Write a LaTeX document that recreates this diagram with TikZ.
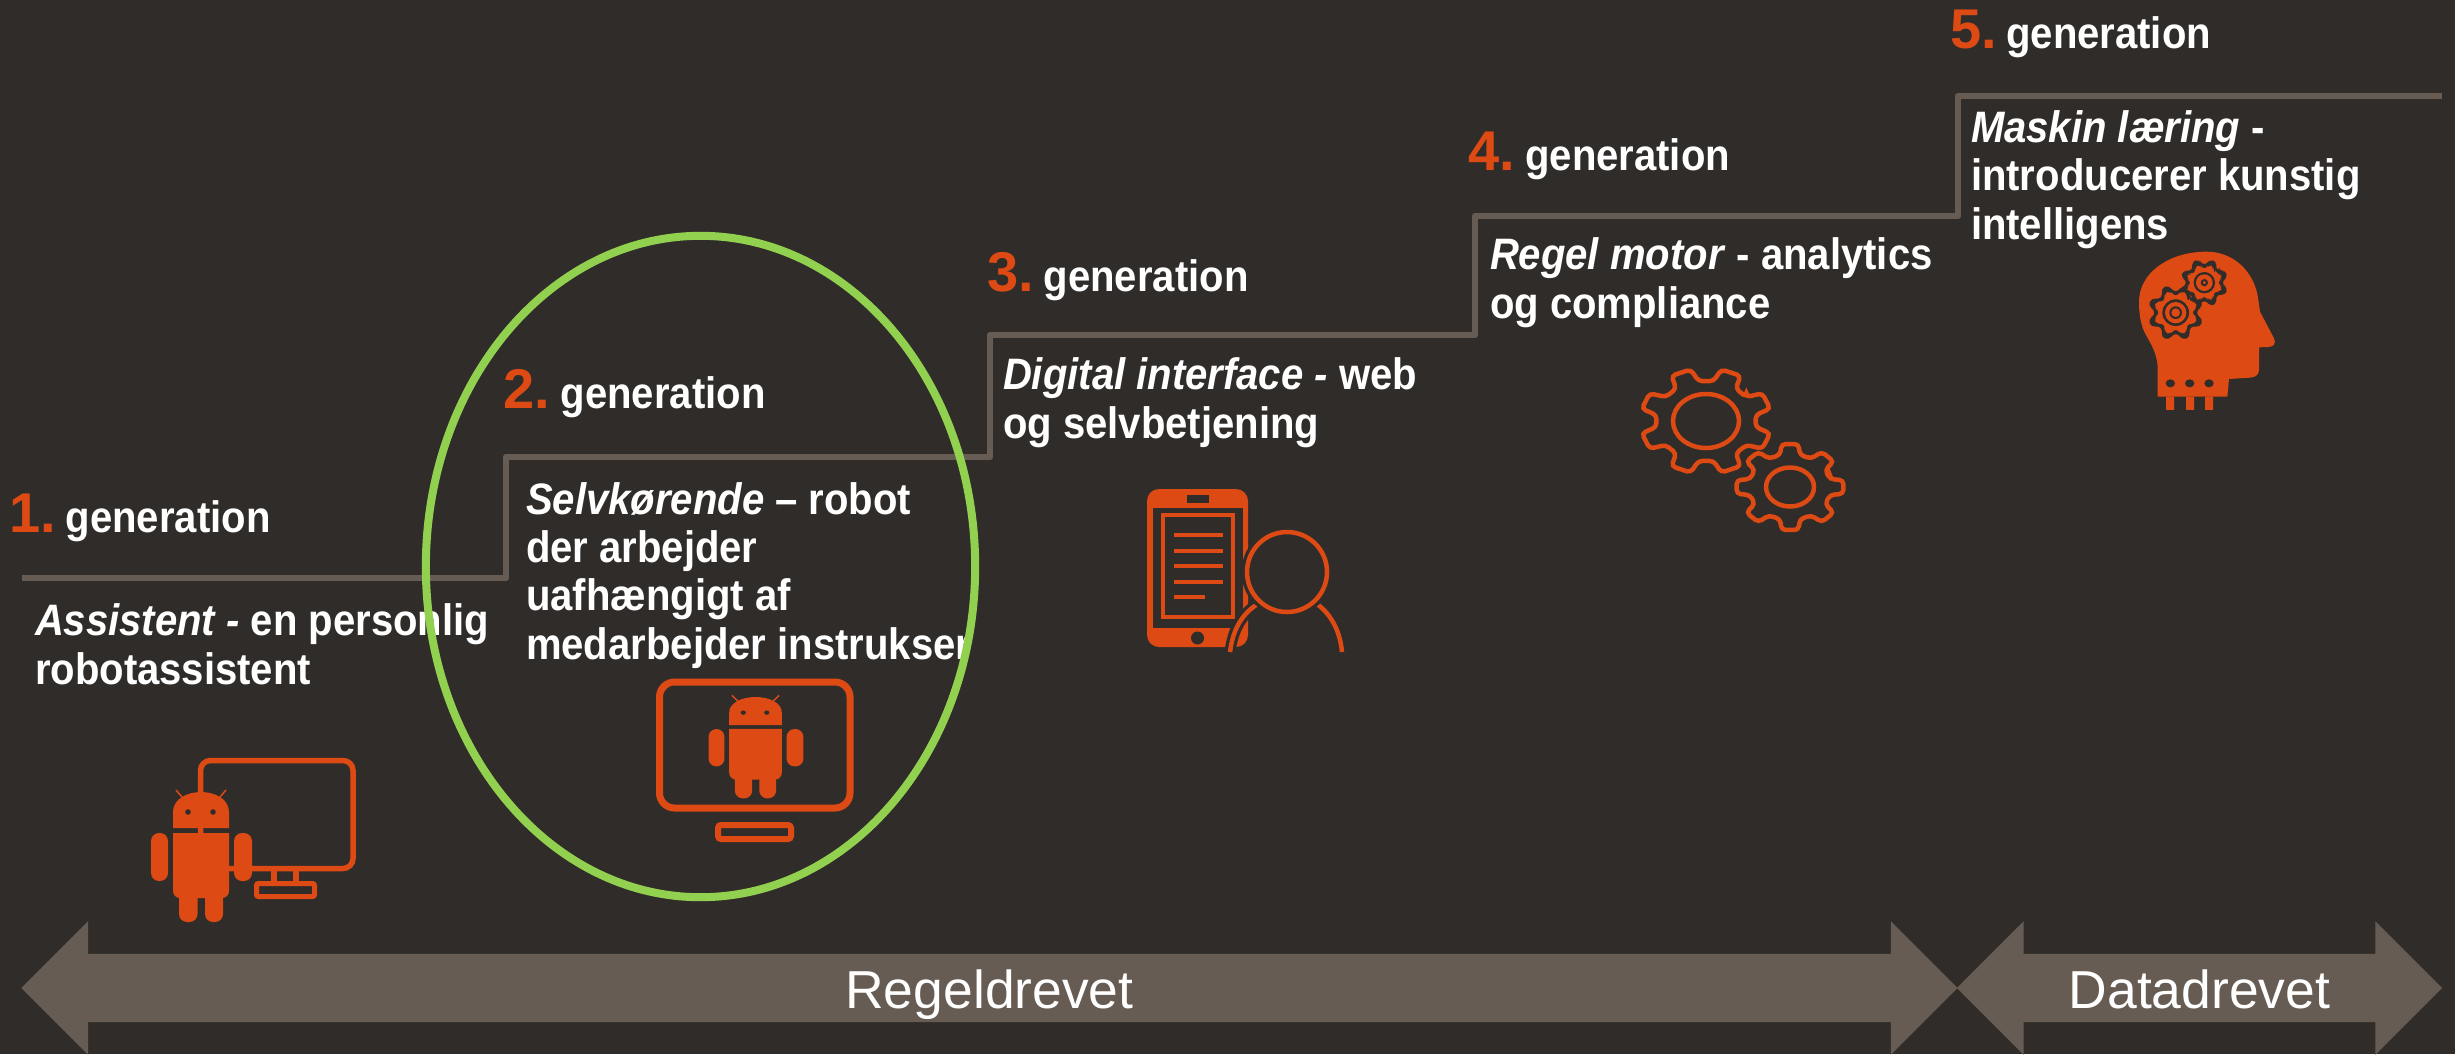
\documentclass[tikz,border=0pt]{standalone}
\usepackage{fontspec}
\setmainfont{Liberation Sans}
\newfontfamily\stepfont[FakeStretch=0.91]{Liberation Sans}
\usetikzlibrary{positioning}
\usetikzlibrary{shapes.geometric}
\usetikzlibrary{shapes.arrows}
\definecolor{bgdark}{HTML}{302C29}
\definecolor{stepgray}{HTML}{665C53}
\definecolor{rust}{HTML}{DD4A14}
\definecolor{leaf}{HTML}{92D14F}

\tikzset{
    stepnum/.style = {inner sep = 0, outer sep = 0, text = rust, font = \fontsize{15.93pt}{18pt}\selectfont\bfseries},
    steptitle/.style = {inner sep = 0, outer sep = 0, text = white, font = \stepfont\fontsize{12.52pt}{14pt}\selectfont\bfseries},
    stepdesc/.style = {inner sep = 0, outer sep = 0, text = white, align = left, anchor = base west,
        font = \stepfont\fontsize{12.52pt}{13.66pt}\selectfont\bfseries},
    phase/.style = {shape = double arrow, fill = stepgray, text = white, inner sep = 0, outer sep = 0,
        double arrow head extend = 0.325cm, minimum width = 1.32cm, text height = 0.535cm, text depth = 0.135cm,
        font = \fontsize{15.2pt}{18pt}\selectfont},
    % robot, measured from the middle of its head top
    robot/.pic = {
        \fill[rust] (-28,36) -- (-28,20) .. controls (-28,7) and (-14,0) .. (0,0)
            .. controls (14,0) and (28,7) .. (28,20) -- (28,36) -- cycle;
        \draw[rust, line width = 0.015cm] (-19,5) -- (-25,-2) (19,5) -- (25,-2);
        \fill[bgdark] (-13,20) circle (2.8) (12,20) circle (2.8);
        \fill[rust] (-28,41) -- (28,41) [rounded corners = 0.07cm] -- (28,106) -- (-28,106) [sharp corners] -- cycle;
        \fill[rust, rounded corners = 0.08cm] (-50,41) rectangle (-33,89);
        \fill[rust, rounded corners = 0.08cm] (33,41) rectangle (51,89);
        \fill[rust, rounded corners = 0.08cm] (-22,85) rectangle (-3.5,130);
        \fill[rust, rounded corners = 0.08cm] (4,85) rectangle (22,130);
    },
    cogwheel/.pic = {
        \path[pic actions, rounded corners = 0.04cm] (-14:0.76)
            \foreach \a in {0,45,...,315} {
                -- (\a-14:0.76) -- (\a-9:1) -- (\a+9:1) -- (\a+14:0.76)
            } -- cycle;
    }
}

\begin{document}
\begin{tikzpicture}[x = 0.01cm, y = -0.01cm]

    \path[use as bounding box, fill = bgdark] (0,0) rectangle (2455,1054);

    % stairs
    \draw[stepgray, line width = 0.065cm, line join = round] (22,578) -- (506,578) -- (506,457) -- (990,457)
        -- (990,335) -- (1475,335) -- (1475,216) -- (1958,216) -- (1958,96) -- (2442,96);

    % generations
    \node[stepnum, anchor = base west] (num1) at (9,532) {1.};
    \node[steptitle, base right = 0.1cm of num1] (gen1) {generation};
    \node[stepnum, anchor = base west] (num2) at (503,408) {2.};
    \node[steptitle, base right = 0.11cm of num2] (gen2) {generation};
    \node[stepnum, anchor = base west] (num3) at (987,291) {3.};
    \node[steptitle, base right = 0.1cm of num3] (gen3) {generation};
    \node[stepnum, anchor = base west] (num4) at (1468,170) {4.};
    \node[steptitle, base right = 0.105cm of num4] (gen4) {generation};
    \node[stepnum, anchor = base west] (num5) at (1950,48) {5.};
    \node[steptitle, base right = 0.095cm of num5] (gen5) {generation};

    % descriptions
    \node[stepdesc] (desc1) at (35,684) {\textit{Assistent -} en personlig\\robotassistent};
    \node[stepdesc] (desc2) at (526,659) {\textit{Selvkørende} – robot\\der arbejder\\uafhængigt af\\medarbejder instrukser};
    \node[stepdesc] (desc3) at (1003,438) {\textit{Digital interface -} web\\og selvbetjening};
    \node[stepdesc] (desc4) at (1490,318) {\textit{Regel motor} - analytics\\og compliance};
    \node[stepdesc] (desc5) at (1971,239) {\textit{Maskin læring} -\\introducerer kunstig\\intelligens};

    % first robot and its screen
    \draw[rust, line width = 0.055cm, rounded corners = 0.1cm] (200.5,760.5) rectangle (353,868.5);
    \draw[rust, line width = 0.055cm] (274,868) -- (274,881) (296,868) -- (296,881);
    \draw[rust, line width = 0.05cm, rounded corners = 0.02cm] (256.5,883.5) rectangle (314.5,896.5);
    \pic at (201,792) {robot};

    % second robot inside its screen
    \draw[rust, line width = 0.07cm, rounded corners = 0.15cm] (659.5,682) rectangle (850,808);
    \draw[rust, line width = 0.06cm, rounded corners = 0.03cm] (718,825) rectangle (791,839);
    \pic[xscale = 0.94, yscale = 0.78] at (755.5,697) {robot};

    % phone
    \fill[rust, rounded corners = 0.12cm] (1147,489) rectangle (1248,647);
    \fill[bgdark] (1152.5,508) rectangle (1243,628);
    \fill[bgdark] (1187,495) rectangle (1209,503);
    \fill[bgdark] (1197.5,638) circle (6.5);
    \draw[rust, line width = 0.04cm] (1163,515) rectangle (1233,617);
    \draw[rust, line width = 0.035cm] (1174,535) -- (1222.5,535) (1174,551) -- (1222.5,551)
        (1174,566) -- (1222.5,566) (1174,582) -- (1222.5,582) (1174,597) -- (1205,597);

    % person in front of the phone
    \draw[bgdark, line width = 0.11cm] (1261,602) .. controls (1243,612) and (1233,628) .. (1230,652);
    \draw[rust, line width = 0.045cm] (1261,602) .. controls (1243,612) and (1233,628) .. (1230,652);
    \draw[rust, line width = 0.045cm] (1314,602) .. controls (1330,612) and (1340,630) .. (1342,652);
    \draw[bgdark, fill = bgdark, line width = 0.11cm] (1287,572) circle (40);
    \draw[rust, line width = 0.045cm] (1287,572) circle (40);

    % gears
    \pic[draw = rust, line width = 0.045cm, xscale = 66, yscale = 53, rotate = 22.5] at (1706,421) {cogwheel};
    \draw[rust, line width = 0.045cm] (1706,421) ellipse (33 and 27);
    \pic[draw = rust, line width = 0.045cm, xscale = 54, yscale = 43.5] at (1790,487) {cogwheel};
    \draw[rust, line width = 0.045cm] (1790,487) ellipse (24 and 19.5);

    % head with gears
    \begin{scope}[shift = {(2090,230)}, scale = 0.3333]
        \fill[rust] (203,500) -- (203,410) .. controls (200,370) and (185,345) .. (165,310)
            .. controls (150,280) and (147,245) .. (147,215) .. controls (147,130) and (235,65) .. (350,65)
            .. controls (430,65) and (495,125) .. (505,210) -- (510,245) -- (552,325)
            .. controls (558,340) and (553,350) .. (535,351) -- (507,352) -- (507,420)
            .. controls (507,435) and (495,442) .. (480,443) -- (417,447) -- (412,500) -- cycle;
        \fill[rust] (228,500) rectangle (252,540) (288,500) rectangle (312,540) (345,500) rectangle (369,540);
        \fill[bgdark] (241,460) ellipse (14 and 12) (299,460) ellipse (14 and 12) (357,460) ellipse (14 and 12);
        % a pic drops the scope's scale, so these are full size
        \pic[fill = bgdark, scale = 24.3, rotate = 22.5] at (343,158) {cogwheel};
        \pic[fill = bgdark, scale = 28.3, rotate = 22.5] at (257,248) {cogwheel};
        \pic[fill = rust, scale = 18.5, rotate = 22.5] at (343,158) {cogwheel};
        \pic[fill = rust, scale = 22.5, rotate = 22.5] at (257,248) {cogwheel};
        \fill[bgdark] (257,248) circle (40);
        \fill[rust] (257,248) circle (32);
        \fill[bgdark] (257,248) circle (19);
        \fill[rust] (257,248) circle (13);
        \fill[bgdark] (343,158) circle (32);
        \fill[rust] (343,158) circle (25);
        \fill[bgdark] (343,158) circle (11);
        \fill[rust] (343,158) circle (5);
    \end{scope}

    % phases
    \node[phase, minimum height = 19.35cm] (regel) at (989.5,988) {Regeldrevet};
    \node[phase, minimum height = 4.85cm] (data) at (2199.5,988) {Datadrevet};

    % circle around the second generation
    \node[ellipse, draw = leaf, line width = 0.08cm, inner sep = 0, outer sep = 0, minimum width = 5.49cm, minimum height = 6.61cm] (focus) at (700.5,566.5) {};

\end{tikzpicture}
\end{document}
